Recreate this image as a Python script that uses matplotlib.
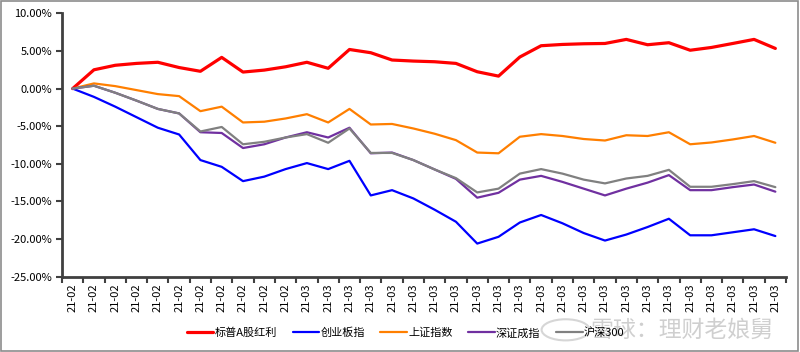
import matplotlib
matplotlib.use("Agg")
import matplotlib.pyplot as plt
from matplotlib.ticker import FuncFormatter, FixedLocator
import numpy as np

plt.rcParams['font.family'] = ['Noto Sans CJK SC', 'DejaVu Sans']

# x labels: 11 trading days in Feb, 23 in March
dates = ["21-02"] * 11 + ["21-03"] * 23

sp_div = [0.0, 2.5, 3.1, 3.35, 3.5, 2.8, 2.3, 4.15, 2.2,
          2.46, 2.9, 3.5, 2.7, 5.2, 4.77, 3.8, 3.66,
          3.57, 3.35, 2.24, 1.66, 4.2, 5.7, 5.87, 5.96,
          6.0, 6.54, 5.83, 6.1, 5.1, 5.47, 6.0, 6.54, 5.34]
chinext = [0.0, -1.1, -2.4, -3.8, -5.2, -6.1, -9.5, -10.4, -12.3,
           -11.7, -10.7, -9.9, -10.7, -9.6, -14.2, -13.5, -14.6,
           -16.1, -17.7, -20.6, -19.7, -17.8, -16.8, -17.9, -19.2,
           -20.2, -19.4, -18.4, -17.3, -19.5, -19.5, -19.1, -18.7, -19.6]
sse = [0.0, 0.69, 0.33, -0.2, -0.73, -1.0, -3.0, -2.4, -4.5,
       -4.4, -3.97, -3.4, -4.5, -2.7, -4.77, -4.7, -5.3,
       -6.0, -6.85, -8.5, -8.6, -6.4, -6.05, -6.3, -6.7,
       -6.9, -6.2, -6.3, -5.8, -7.4, -7.16, -6.76, -6.3, -7.2]
szse = [0.0, 0.38, -0.55, -1.6, -2.7, -3.3, -5.8, -5.9, -7.9,
        -7.4, -6.5, -5.8, -6.5, -5.2, -8.6, -8.5, -9.5,
        -10.75, -12.0, -14.5, -13.85, -12.1, -11.6, -12.4, -13.3,
        -14.2, -13.3, -12.5, -11.5, -13.5, -13.5, -13.1, -12.75, -13.7]
hs300 = [0.0, 0.38, -0.55, -1.6, -2.7, -3.3, -5.7, -5.1, -7.4,
         -7.07, -6.5, -6.05, -7.2, -5.3, -8.55, -8.55, -9.5,
         -10.75, -11.9, -13.8, -13.3, -11.3, -10.7, -11.3, -12.1,
         -12.6, -11.95, -11.6, -10.8, -13.05, -13.05, -12.7, -12.3, -13.1]

series = [
    ("标普A股红利", sp_div, "#FF0000", 2.3),
    ("创业板指", chinext, "#0000FF", 1.6),
    ("上证指数", sse, "#FF7F00", 1.6),
    ("深证成指", szse, "#7030A0", 1.6),
    ("沪深300", hs300, "#808080", 1.6),
]

fig = plt.figure(figsize=(8, 3.52), dpi=100)
ax = fig.add_axes([0.0775, 0.214, 0.905, 0.748])

x = np.arange(len(dates))
for name, vals, color, lw in series:
    ax.plot(x, vals, color=color, lw=lw, label=name, solid_capstyle='round',
            solid_joinstyle='round')

ax.set_xlim(-0.5, len(dates) - 0.5)
ax.set_ylim(-25, 10)
ax.set_yticks(np.arange(-25, 10.1, 5))
ax.yaxis.set_major_formatter(FuncFormatter(lambda v, p: f"{v:.2f}%"))

ax.set_xticks(x)
ax.set_xticklabels(dates, rotation=90, fontsize=8)
ax.xaxis.set_minor_locator(FixedLocator(np.arange(-0.5, len(dates), 1.0)))
ax.tick_params(axis='x', which='major', length=0, pad=5)
ax.tick_params(axis='x', which='minor', length=4, width=1.5, color='#404040', direction='out')
ax.tick_params(axis='y', which='major', length=4, width=1.5, color='#404040', labelsize=8, pad=3)

for s in ['top', 'right']:
    ax.spines[s].set_visible(False)
for s in ['left', 'bottom']:
    ax.spines[s].set_color('#404040')
    ax.spines[s].set_linewidth(2.0)

leg = fig.legend(loc='center', bbox_to_anchor=(0.507, 0.054), ncol=5, frameon=False,
                 fontsize=8, handlelength=2.4, handletextpad=0.1, columnspacing=1.4)

# watermark
fig.text(0.738, 0.063, "雪球：理财老娘舅", fontsize=16.5, color='#c4c4c4', alpha=0.8,
         ha='left', va='center')
circ = matplotlib.patches.Circle((0.707, 0.063), 0.03, transform=fig.transFigure,
                                 fill=False, ec='#cccccc', lw=1.5, alpha=0.8)
fig.patches.append(circ)

# outer border
border = matplotlib.patches.Rectangle((0.001, 0.004), 0.997, 0.993, transform=fig.transFigure,
                                      fill=False, ec='#8c8c8c', lw=1.2)
fig.patches.append(border)

fig.savefig("out.png", dpi=100)
